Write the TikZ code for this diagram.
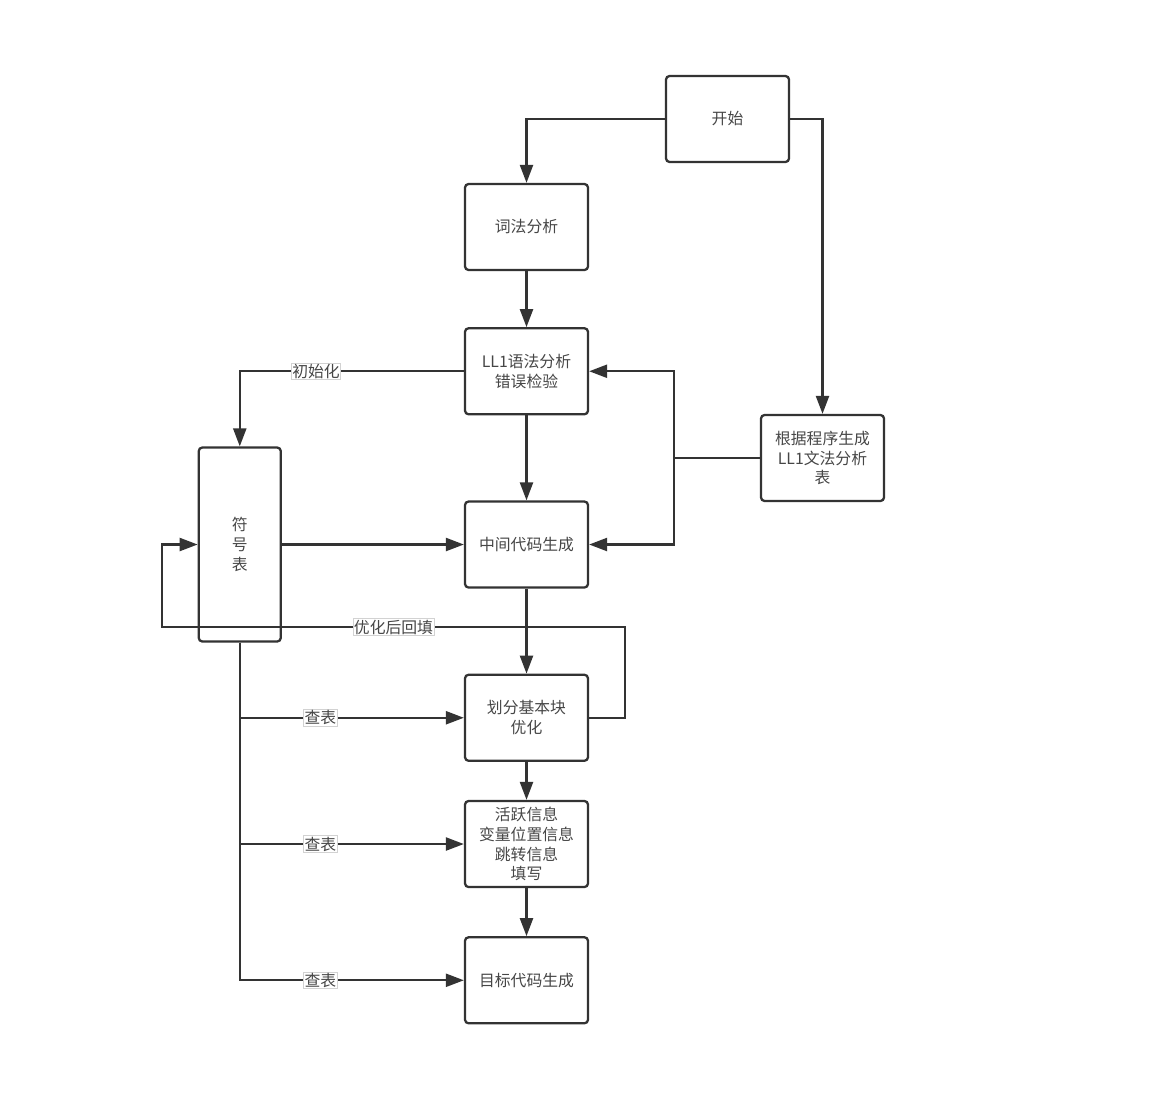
\documentclass[tikz,border=0pt]{standalone}
\usepackage{fontspec}
\setmainfont{Noto Sans CJK SC}
\definecolor{linegray}{RGB}{51,51,51}
\definecolor{textgray}{RGB}{70,70,70}
\usetikzlibrary{positioning, arrows.meta}

\begin{document}
\begin{tikzpicture}[
        x=0.02cm, y=-0.02cm,
        box/.style={rectangle, rounded corners=2pt, draw=linegray, line width=1.3pt, minimum width=2.46cm, minimum height=1.72cm, align=center, text=textgray, font=\fontsize{9}{11.3}\selectfont},
        tbl/.style={box, minimum width=1.64cm, minimum height=3.88cm},
        lnk/.style={draw=linegray, line width=1.3pt},
        arr/.style={lnk, -{Triangle[length=0.36cm, width=0.26cm]}},
        lbl/.style={fill=white, draw=gray!35, line width=0.3pt, inner sep=0.6pt, text=textgray, font=\fontsize{9}{11}\selectfont}
    ]
        \useasboundingbox (0,0) rectangle (1162,1092);

        % Main column
        \node[box] (start) at (727.5,119) {开始};
        \node[box] (lex) at (526.5,227) {词法分析};
        \node[box, below=1.12cm of lex] (ll1) {LL1语法分析\\错误检验};
        \node[box, below=1.7cm of ll1] (mid) {中间代码生成};
        \node[box, below=1.7cm of mid] (blk) {划分基本块\\优化};
        \node[box, below=0.76cm of blk] (info) {活跃信息\\变量位置信息\\跳转信息\\填写};
        \node[box, below=0.96cm of info] (tgt) {目标代码生成};

        % Side boxes
        \node[box] (gen) at (822.5,458) {根据程序生成\\LL1文法分析\\表};
        \node[tbl, left=3.64cm of mid] (sym) {符\\号\\表};

        % Junctions
        \coordinate (jn) at (674,458);
        \coordinate (fbR) at (625,627);
        \coordinate (fbL) at (162,627);

        % Arrows
        \draw[arr] (start.west) -| (lex.north);
        \draw[arr] (start.east) -| (gen.north);
        \draw[arr] (lex) -- (ll1);
        \draw[arr] (ll1.west) -| node[lbl, pos=0.33] {初始化} (sym.north);
        \draw[arr] (ll1) -- (mid);
        \draw[lnk] (gen.west) -- (jn);
        \draw[arr] (jn) |- (ll1.east);
        \draw[arr] (jn) |- (mid.east);
        \draw[arr] (sym.east) -- (mid.west);
        \draw[arr] (mid) -- (blk);
        \draw[arr] (blk.east) -| (fbR) -- node[lbl] {优化后回填} (fbL) |- (sym.west);
        \draw[arr] (blk) -- (info);
        \draw[arr] (info) -- (tgt);
        \foreach \t in {blk, info, tgt}
            \draw[arr] (sym.south) |- node[lbl, pos=0.68] {查表} (\t.west);
    \end{tikzpicture}
\end{document}
